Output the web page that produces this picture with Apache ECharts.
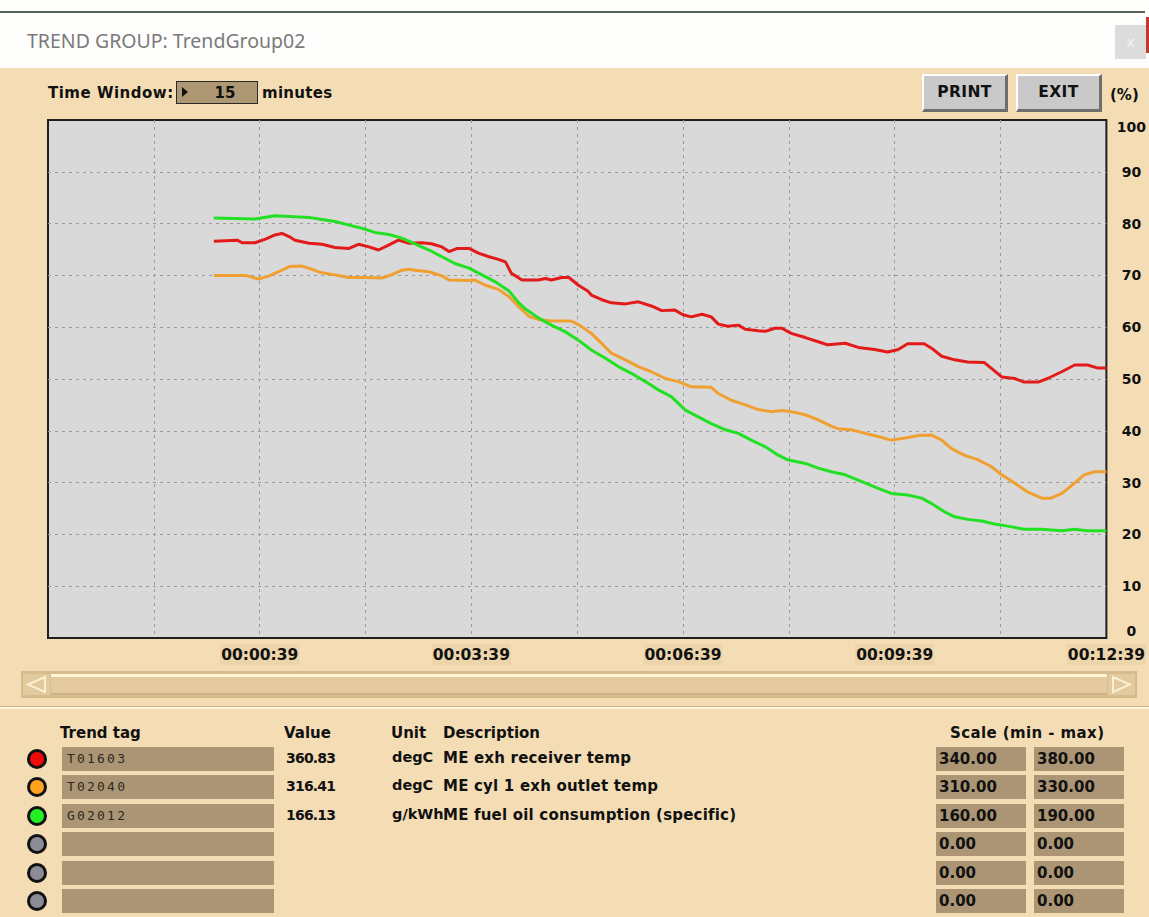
<!DOCTYPE html>
<html>
<head>
<meta charset="utf-8">
<script src="https://cdn.jsdelivr.net/npm/echarts@6/dist/echarts.min.js"></script>
<style>
  html, body { margin:0; padding:0; }
  body { width:1149px; height:917px; position:relative; overflow:hidden; background:#F4DDB5;
         font-family:"DejaVu Sans", Verdana, sans-serif; color:#111; }
  .abs { position:absolute; }
  .b15 { font-weight:bold; font-size:15px; }
  .btn { position:absolute; background:#C9C9C9; border-top:2px solid #FFFFFF; border-left:2px solid #FFFFFF;
         border-right:3px solid #6E6E6E; border-bottom:3px solid #6E6E6E; box-sizing:border-box;
         font-weight:bold; font-size:15.5px; text-align:center; line-height:33px; color:#111; letter-spacing:0.4px; }
  .tagbox { position:absolute; left:62px; width:212px; height:24px; background:#AB9574;
            font-family:"DejaVu Sans Mono", monospace; font-size:13px; letter-spacing:2.2px; color:#2E2920;
            line-height:24px; padding-left:5px; box-sizing:border-box; }
  .scbox { position:absolute; width:90px; height:24px; background:#AB9574; font-weight:bold; font-size:15px;
           line-height:24px; padding-left:3px; box-sizing:border-box; color:#111; }
  .lamp { position:absolute; left:27px; width:20px; height:20px; border-radius:50%; border:3px solid #111; box-sizing:border-box; }
  .cell { position:absolute; font-weight:bold; white-space:nowrap; }
</style>
</head>
<body>
<!-- title bar -->
<div class="abs" style="left:0;top:0;width:1149px;height:68px;background:#FEFEFD;"></div>
<div class="abs" style="left:0;top:11px;width:1145px;height:2px;background:#5A655A;"></div>
<div class="abs" style="left:1146px;top:17px;width:3px;height:36px;background:#C0392B;"></div>
<div class="abs" style="left:27px;top:27px;font-family:'Noto Sans','Open Sans',sans-serif;font-size:19.5px;color:#7A7A7A;white-space:nowrap;">TREND GROUP: TrendGroup02</div>
<div class="abs" style="left:1115px;top:25px;width:31px;height:34px;background:#DCDCDC;color:#F4F4F4;font-size:14px;text-align:center;line-height:34px;">x</div>

<!-- controls -->
<div class="abs b15" style="left:48px;top:84px;letter-spacing:0.5px;white-space:nowrap;">Time Window:</div>
<div class="abs" style="left:176px;top:81px;width:82px;height:23px;background:#AE9873;border:1.5px solid #2A2A2A;box-sizing:border-box;"></div>
<div class="abs" style="left:182px;top:87px;width:0;height:0;border-top:5px solid transparent;border-bottom:5px solid transparent;border-left:6px solid #111;"></div>
<div class="abs b15" style="left:210px;top:84px;width:30px;text-align:center;">15</div>
<div class="abs b15" style="left:262px;top:84px;letter-spacing:0.3px;">minutes</div>
<div class="btn" style="left:922px;top:74px;width:86px;height:38px;">PRINT</div>
<div class="btn" style="left:1016px;top:74px;width:86px;height:38px;">EXIT</div>
<div class="abs b15" style="left:1110px;top:86px;white-space:nowrap;">(%)</div>

<!-- scrollbar -->
<div class="abs" style="left:21px;top:671px;width:1116px;height:27px;background:#D6BC8D;"></div>
<div class="abs" style="left:51px;top:674px;width:1056px;height:21px;background:#E3C99D;border-top:3px solid #FFF5D6;border-bottom:2px solid #CDB286;box-sizing:border-box;"></div>
<div class="abs" style="left:23px;top:674px;width:27px;height:21px;background:#E2C99E;"></div>
<div class="abs" style="left:1108px;top:674px;width:27px;height:21px;background:#E2C99E;"></div>
<svg class="abs" style="left:21px;top:671px;" width="1116" height="27">
  <polygon points="24,6 24,21 7,13.5" fill="none" stroke="#FBF0D2" stroke-width="2"/>
  <polygon points="1092,6 1092,21 1109,13.5" fill="none" stroke="#FBF0D2" stroke-width="2"/>
</svg>

<!-- separator -->
<div class="abs" style="left:0;top:706px;width:1149px;height:1px;background:#CDB68F;"></div>
<div class="abs" style="left:0;top:707px;width:1149px;height:2px;background:#FFF3DA;"></div>

<div id="table"></div>

<div id="chart" class="abs" style="left:0;top:0;width:1149px;height:917px;"></div>

<script>
// ---------------- data ----------------
const timeWindowMinutes = 15;
const endTimeSec = 759;                 // 00:12:39 at the right edge
const xTickLabels = ['00:00:39', '00:03:39', '00:06:39', '00:09:39', '00:12:39'];
const yTicks = [0, 10, 20, 30, 40, 50, 60, 70, 80, 90, 100];

// [time since start (s), % of scale]
const seriesRed = [
  [0,76.6],[20,76.8],[24,76.3],[35,76.3],[44,77.0],[52,77.8],[58,78.1],[64,77.5],[69,76.8],[81,76.2],
  [92,76.0],[103,75.4],[115,75.2],[123,76.0],[132,75.5],[140,74.9],[149,75.9],[157,76.8],[166,76.2],
  [177,76.3],[185,76.1],[194,75.5],[200,74.6],[207,75.2],[217,75.2],[225,74.3],[234,73.6],[242,73.1],
  [248,72.6],[253,70.4],[262,69.1],[276,69.1],[282,69.4],[287,69.1],[296,69.6],[302,69.6],[310,68.1],
  [318,67.0],[321,66.2],[330,65.3],[338,64.7],[350,64.5],[361,64.9],[372,64.1],[381,63.2],[392,63.3],
  [399,62.4],[406,62.0],[415,62.5],[423,62.0],[429,60.6],[437,60.2],[446,60.4],[452,59.6],[463,59.3],
  [469,59.2],[477,59.8],[483,59.8],[491,58.8],[503,58.0],[514,57.2],[522,56.6],[537,56.9],[548,56.1],
  [562,55.7],[573,55.2],[582,55.7],[590,56.8],[604,56.8],[610,56.0],[619,54.4],[630,53.7],[641,53.3],
  [655,53.2],[661,52.1],[670,50.4],[681,50.1],[689,49.4],[701,49.4],[709,50.1],[721,51.4],[732,52.7],
  [743,52.7],[752,52.1],[759,52.1]
];
const seriesOrange = [
  [0,70.0],[27,70.0],[38,69.3],[47,69.9],[58,71.0],[64,71.7],[75,71.8],[83,71.2],[92,70.5],[103,70.1],
  [115,69.6],[129,69.6],[143,69.5],[151,70.1],[160,71.0],[166,71.2],[171,71.0],[183,70.7],[194,69.9],
  [200,69.1],[217,69.0],[222,69.1],[231,68.1],[242,67.3],[251,65.9],[259,64.0],[268,62.1],[276,61.5],
  [287,61.2],[304,61.2],[311,60.4],[321,58.8],[327,57.5],[338,55.0],[350,53.7],[361,52.4],[372,51.4],
  [384,50.1],[395,49.5],[406,48.5],[423,48.4],[429,47.2],[440,45.9],[452,45.0],[463,44.1],[474,43.7],
  [483,43.9],[491,43.7],[503,43.1],[514,42.1],[525,40.9],[531,40.4],[542,40.2],[554,39.5],[565,38.9],
  [576,38.2],[588,38.6],[599,39.1],[610,39.2],[619,38.2],[627,36.6],[638,35.3],[650,34.4],[661,33.1],
  [670,31.5],[681,29.9],[692,28.2],[704,27.0],[712,27.0],[721,27.9],[732,29.9],[740,31.5],[749,32.1],
  [759,32.1]
];
const seriesGreen = [
  [0,81.1],[35,80.9],[52,81.5],[69,81.3],[81,81.2],[92,80.8],[103,80.4],[115,79.7],[126,79.1],[137,78.3],
  [149,77.9],[160,77.2],[171,76.1],[183,74.9],[194,73.6],[205,72.3],[217,71.4],[228,70.1],[239,68.8],
  [251,67.0],[259,64.8],[265,63.5],[276,61.8],[287,60.4],[299,59.1],[310,57.5],[321,55.6],[333,54.0],
  [344,52.4],[355,51.1],[367,49.5],[378,47.9],[389,46.6],[401,44.0],[412,42.7],[423,41.4],[435,40.2],
  [446,39.5],[457,38.2],[469,36.9],[480,35.3],[488,34.4],[503,33.7],[514,32.8],[525,32.1],[537,31.5],
  [551,30.2],[565,28.9],[576,27.9],[590,27.6],[602,27.0],[610,26.0],[621,24.4],[630,23.4],[641,22.9],
  [653,22.6],[664,22.0],[675,21.6],[689,21.0],[704,21.0],[721,20.7],[732,21.0],[743,20.7],[759,20.7]
];

const trendTags    = ['T01603', 'T02040', 'G02012', '', '', ''];
const tagValues    = ['360.83', '316.41', '166.13', '', '', ''];
const tagUnits     = ['degC', 'degC', 'g/kWh', '', '', ''];
const tagDescs     = ['ME exh receiver temp', 'ME cyl 1 exh outlet temp', 'ME fuel oil consumption (specific)', '', '', ''];
const scaleMins    = ['340.00', '310.00', '160.00', '0.00', '0.00', '0.00'];
const scaleMaxs    = ['380.00', '330.00', '190.00', '0.00', '0.00', '0.00'];
const lampColors   = ['#F00A0A', '#FFA21E', '#22F022', '#8C8C96', '#8C8C96', '#8C8C96'];
const lineColors   = ['#E31A1A', '#F0A030', '#24E024'];

// ---------------- table ----------------
(function () {
  const t = document.getElementById('table');
  let h = '';
  h += '<div class="cell b15" style="left:60px;top:724px;">Trend tag</div>';
  h += '<div class="cell b15" style="left:284px;top:724px;">Value</div>';
  h += '<div class="cell b15" style="left:391px;top:724px;">Unit</div>';
  h += '<div class="cell b15" style="left:443px;top:724px;">Description</div>';
  h += '<div class="cell b15" style="left:950px;top:724px;letter-spacing:0.4px;">Scale (min - max)</div>';
  const rowTops = [747, 775, 804, 832, 861, 889];
  for (let i = 0; i < trendTags.length; i++) {
    const top = rowTops[i];
    h += '<div class="lamp" style="top:' + (top + 2) + 'px;background:' + lampColors[i] + ';"></div>';
    h += '<div class="tagbox" style="top:' + top + 'px;">' + trendTags[i] + '</div>';
    h += '<div class="cell" style="left:286px;top:' + (top + 3) + 'px;font-size:14px;letter-spacing:-0.8px;">' + tagValues[i] + '</div>';
    h += '<div class="cell" style="left:392px;top:' + (top + 2) + 'px;font-size:14.5px;">' + tagUnits[i] + '</div>';
    h += '<div class="cell" style="left:443px;top:' + (top + 2) + 'px;font-size:15px;letter-spacing:0.2px;">' + tagDescs[i] + '</div>';
    h += '<div class="scbox" style="left:936px;top:' + top + 'px;">' + scaleMins[i] + '</div>';
    h += '<div class="scbox" style="left:1034px;top:' + top + 'px;">' + scaleMaxs[i] + '</div>';
  }
  t.innerHTML = h;
})();

// ---------------- chart ----------------
const windowSec = timeWindowMinutes * 60;
const windowStart = endTimeSec - windowSec;          // -141 s

function fmt(s) {
  const hh = Math.floor(s / 3600), mm = Math.floor((s % 3600) / 60), ss = Math.round(s % 60);
  const p = n => String(n).padStart(2, '0');
  return p(hh) + ':' + p(mm) + ':' + p(ss);
}
function parseT(str) { const a = str.split(':').map(Number); return a[0] * 3600 + a[1] * 60 + a[2]; }
const toAxis = pts => pts.map(p => [p[0] - windowStart, p[1]]);
const labelPositions = xTickLabels.map(s => parseT(s) - windowStart);

const chart = echarts.init(document.getElementById('chart'), null, { renderer: 'svg' });
const gridLine = { show: true, showMinLine: false, showMaxLine: false, lineStyle: { color: '#9A9A9A', type: [3, 4], width: 1 } };
chart.setOption({
  backgroundColor: 'transparent',
  animation: false,
  grid: {
    left: 48, right: 41, top: 120, bottom: 279,
    show: true, backgroundColor: '#D9D9D9', borderColor: '#1E1E1E', borderWidth: 2
  },
  xAxis: {
    type: 'value', min: 0, max: windowSec, interval: 90,
    axisLine: { show: false }, axisTick: { show: false },
    splitLine: gridLine,
    axisLabel: {
      customValues: labelPositions,
      formatter: v => fmt(v + windowStart),
      fontFamily: 'DejaVu Sans', fontWeight: 'bold', fontSize: 15.5, color: '#111',
      margin: 6, backgroundColor: '#ECD4AB', padding: [3, 1, 2, 1],
      showMaxLabel: true, hideOverlap: false
    }
  },
  yAxis: {
    type: 'value', position: 'right', min: 0, max: 100, interval: 10,
    axisLine: { show: false }, axisTick: { show: false },
    splitLine: gridLine,
    axisLabel: {
      formatter: v => yTicks.includes(v) ? String(v) : '',
      fontFamily: 'DejaVu Sans', fontWeight: 'bold', fontSize: 14, color: '#111',
      align: 'center', margin: 25,
      verticalAlignMinLabel: 'bottom', verticalAlignMaxLabel: 'top',
      showMinLabel: true, showMaxLabel: true
    }
  },
  series: [
    { name: 'T01603', type: 'line', data: toAxis(seriesRed), showSymbol: false, lineStyle: { color: lineColors[0], width: 3 }, itemStyle: { color: lineColors[0] } },
    { name: 'T02040', type: 'line', data: toAxis(seriesOrange), showSymbol: false, lineStyle: { color: lineColors[1], width: 3 }, itemStyle: { color: lineColors[1] } },
    { name: 'G02012', type: 'line', data: toAxis(seriesGreen), showSymbol: false, lineStyle: { color: lineColors[2], width: 3 }, itemStyle: { color: lineColors[2] } }
  ]
});
</script>
</body>
</html>
